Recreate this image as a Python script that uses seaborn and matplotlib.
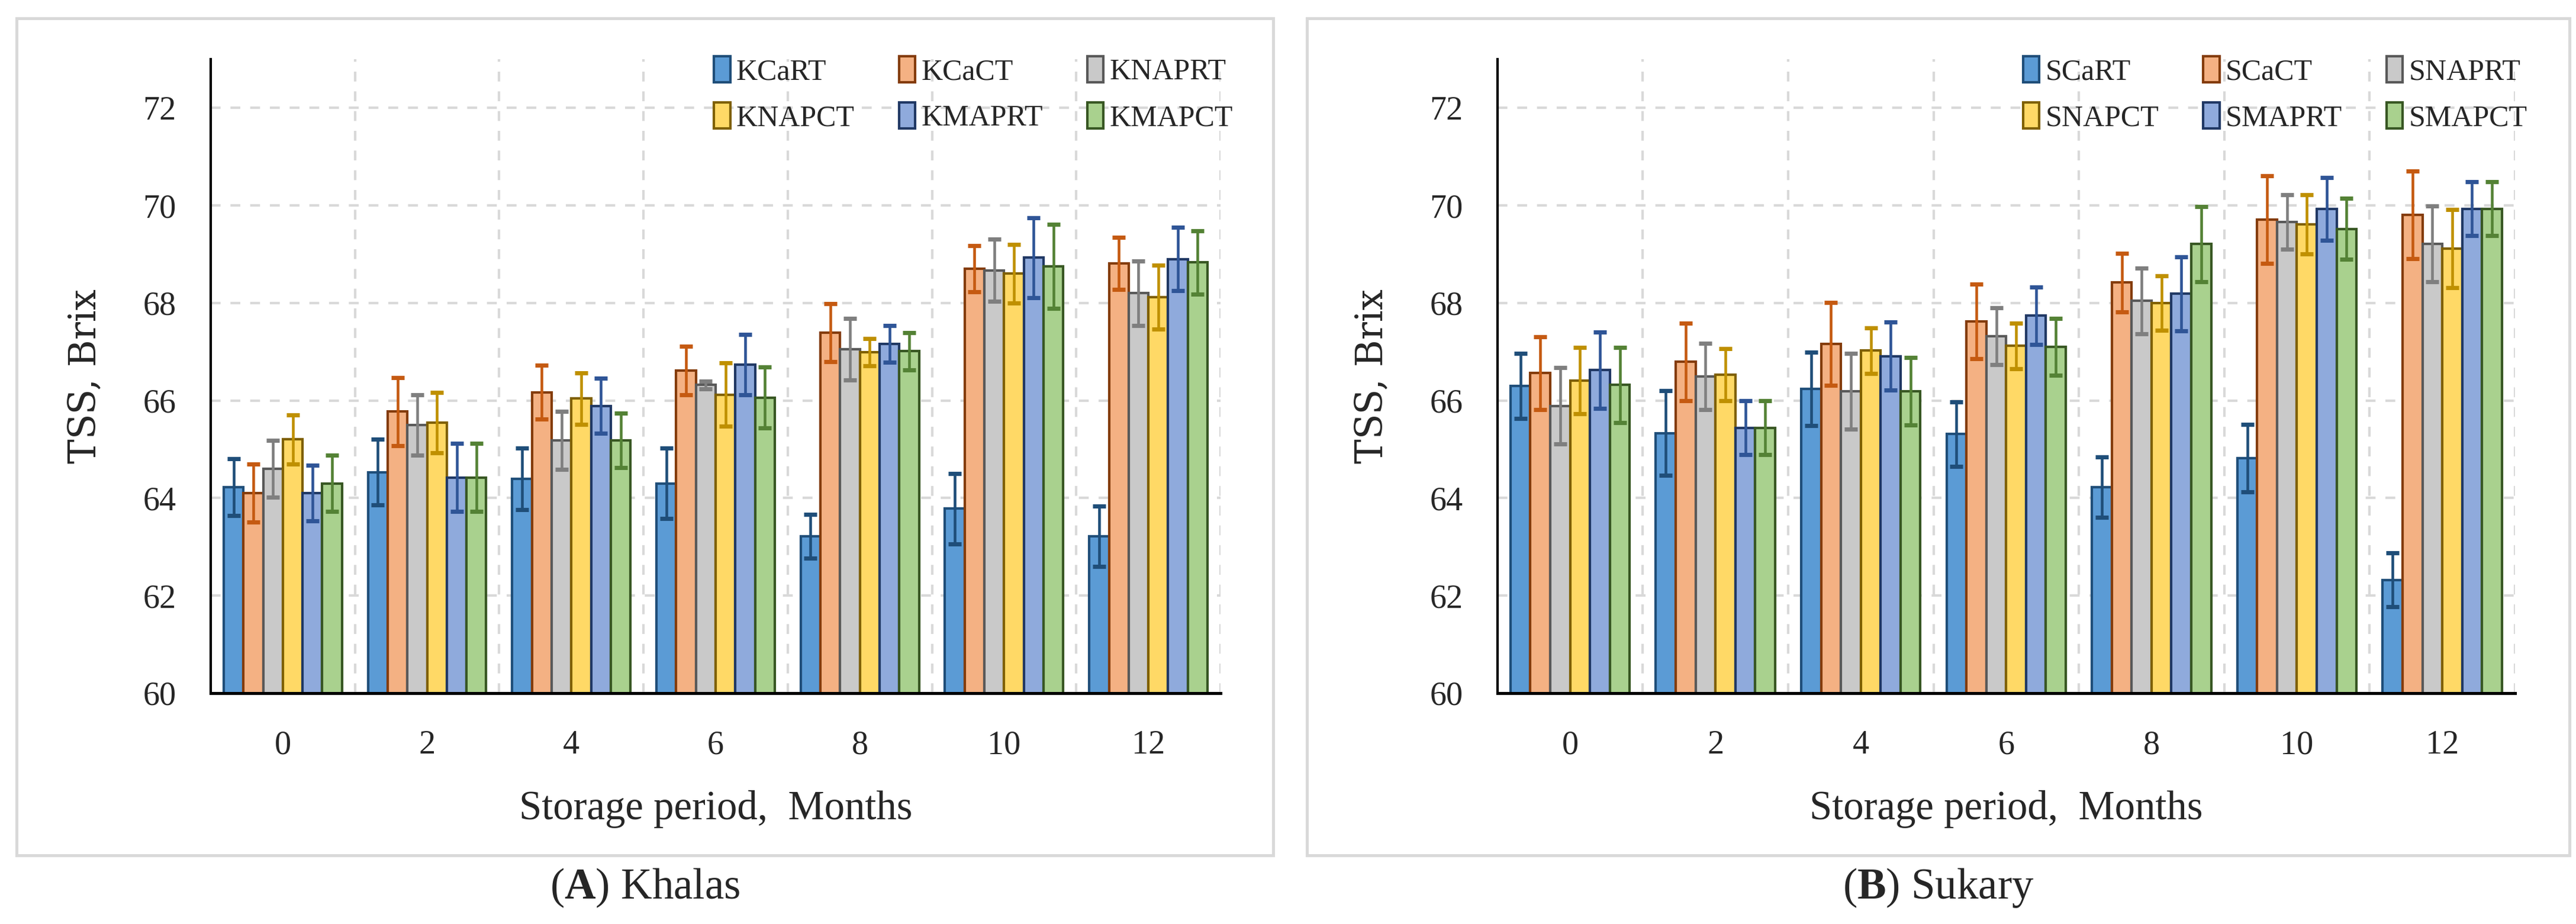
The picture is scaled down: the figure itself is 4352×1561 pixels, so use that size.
import numpy as np
import pandas as pd
import matplotlib
matplotlib.use("Agg")
import matplotlib.pyplot as plt
import matplotlib.patches as mpatches
import seaborn as sns

months = ["0", "2", "4", "6", "8", "10", "12"]

khalas_names = ["KCaRT", "KCaCT", "KNAPRT", "KNAPCT", "KMAPRT", "KMAPCT"]
khalas_means = {
    "KCaRT":  [64.22, 64.53, 64.39, 64.30, 63.21, 63.78, 63.21],
    "KCaCT":  [64.10, 65.77, 66.17, 66.61, 67.39, 68.70, 68.81],
    "KNAPRT": [64.60, 65.50, 65.18, 66.32, 67.05, 68.67, 68.20],
    "KNAPCT": [65.20, 65.54, 66.04, 66.12, 66.99, 68.60, 68.12],
    "KMAPRT": [64.10, 64.42, 65.89, 66.73, 67.16, 68.93, 68.90],
    "KMAPCT": [64.30, 64.42, 65.18, 66.06, 67.01, 68.75, 68.83],
}
khalas_errs = {
    "KCaRT":  [0.58, 0.67, 0.63, 0.72, 0.45, 0.72, 0.62],
    "KCaCT":  [0.60, 0.70, 0.55, 0.50, 0.60, 0.47, 0.53],
    "KNAPRT": [0.58, 0.62, 0.60, 0.08, 0.63, 0.64, 0.66],
    "KNAPCT": [0.50, 0.62, 0.53, 0.65, 0.28, 0.60, 0.66],
    "KMAPRT": [0.57, 0.70, 0.56, 0.62, 0.38, 0.82, 0.65],
    "KMAPCT": [0.58, 0.70, 0.56, 0.63, 0.38, 0.86, 0.65],
}

sukary_names = ["SCaRT", "SCaCT", "SNAPRT", "SNAPCT", "SMAPRT", "SMAPCT"]
sukary_means = {
    "SCaRT":  [66.30, 65.33, 66.24, 65.31, 64.22, 64.82, 62.32],
    "SCaCT":  [66.56, 66.79, 67.16, 67.62, 68.42, 69.71, 69.81],
    "SNAPRT": [65.89, 66.49, 66.19, 67.32, 68.04, 69.66, 69.21],
    "SNAPCT": [66.41, 66.53, 67.02, 67.12, 68.00, 69.61, 69.11],
    "SMAPRT": [66.62, 65.44, 66.91, 67.74, 68.19, 69.93, 69.93],
    "SMAPCT": [66.32, 65.44, 66.19, 67.10, 69.21, 69.52, 69.93],
}
sukary_errs = {
    "SCaRT":  [0.67, 0.87, 0.75, 0.66, 0.62, 0.69, 0.55],
    "SCaCT":  [0.75, 0.80, 0.85, 0.76, 0.60, 0.90, 0.90],
    "SNAPRT": [0.78, 0.68, 0.78, 0.58, 0.67, 0.56, 0.78],
    "SNAPCT": [0.68, 0.53, 0.47, 0.47, 0.56, 0.61, 0.80],
    "SMAPRT": [0.78, 0.55, 0.70, 0.59, 0.76, 0.64, 0.55],
    "SMAPCT": [0.77, 0.55, 0.69, 0.58, 0.77, 0.62, 0.55],
}

fills = ["#5B9BD5", "#F4B183", "#C9C9C9", "#FFD966", "#8FAADC", "#A9D18E"]
edges = ["#1F4E79", "#843C0C", "#595959", "#7F6000", "#203864", "#385723"]
errcols = ["#1F4E79", "#C55A11", "#7F7F7F", "#BF9000", "#2F5597", "#548235"]

sns.set_style("white")
plt.rcParams["font.family"] = ["Liberation Serif", "DejaVu Serif"]
plt.rcParams["mathtext.fontset"] = "custom"
plt.rcParams["mathtext.rm"] = "Liberation Serif"
plt.rcParams["mathtext.bf"] = "Liberation Serif:bold"


def panel(fig, rect, names, means, errs):
    rows = []
    for n in names:
        for m, v in zip(months, means[n]):
            rows.append({"month": m, "tss": v, "treat": n})
    df = pd.DataFrame(rows)

    ax = fig.add_axes(rect)
    sns.barplot(data=df, x="month", y="tss", hue="treat", order=months,
                hue_order=names, palette=fills, saturation=1, width=0.82,
                errorbar=None, legend=False, linewidth=1.0, ax=ax)
    bars = list(ax.containers)
    for i, cont in enumerate(bars):
        xs = []
        for p in cont.patches:
            p.set_edgecolor(edges[i])
            xs.append(p.get_x() + p.get_width() / 2)
        ax.errorbar(xs, means[names[i]], yerr=errs[names[i]], fmt="none",
                    ecolor=errcols[i], elinewidth=1.1, capsize=2.6,
                    capthick=1.7, zorder=5)

    ax.set_ylim(60, 73)
    ax.set_xlim(-0.5, 6.5)
    ax.set_yticks(np.arange(60, 73, 2))
    ax.set_xticks(np.arange(-0.5, 7, 1))
    ax.set_xticklabels([])
    ax.set_xticks(np.arange(7), minor=True)
    ax.set_xticklabels(months, minor=True)
    ax.tick_params(axis="x", which="major", length=5, width=1, direction="out",
                   color="black")
    ax.tick_params(axis="x", which="minor", length=0, pad=15, labelsize=13.5)
    ax.tick_params(axis="y", length=5, width=1, direction="out", pad=9,
                   labelsize=13.5, color="black")
    ax.grid(True, which="major", color="#D9D9D9", linestyle=(0, (4, 4)),
            linewidth=1.0)
    ax.set_axisbelow(True)
    for s in ["top", "right"]:
        ax.spines[s].set_visible(False)
    ax.spines["left"].set_linewidth(1.0)
    ax.spines["bottom"].set_linewidth(1.2)
    ax.spines["left"].set_color("black")
    ax.spines["bottom"].set_color("black")

    ax.set_xlabel("Storage period,  Months", fontsize=16.5, labelpad=12)
    ax.set_ylabel("TSS, Brix", fontsize=15, family="DejaVu Serif", labelpad=16)

    # legend filled row by row, 3 columns
    order = [0, 3, 1, 4, 2, 5]
    ax.legend([bars[k] for k in order], [names[k] for k in order],
              loc="upper right", bbox_to_anchor=(1.012, 1.005), ncol=3,
              frameon=False, fontsize=12, handlelength=0.55,
              handleheight=1.0, handletextpad=0.2, columnspacing=1.5,
              labelspacing=0.55, borderaxespad=0, borderpad=0)
    return ax


fig = plt.figure(figsize=(4352 / 300, 1561 / 300), dpi=300)

# panel frames
for x0, x1 in [(0.0064, 0.4943), (0.5074, 0.9975)]:
    fig.patches.append(mpatches.Rectangle((x0, 0.0743), x1 - x0, 0.980 - 0.0743,
                                          transform=fig.transFigure,
                                          fill=False, edgecolor="#D9D9D9",
                                          linewidth=1.2))

panel(fig, [0.0818, 0.25, 0.3920, 0.686], khalas_names, khalas_means, khalas_errs)
panel(fig, [0.5813, 0.25, 0.3950, 0.686], sukary_names, sukary_means, sukary_errs)

fig.text(0.2503, 0.039, r"($\mathbf{A}$) Khalas", ha="center", va="center",
         fontsize=17.5)
fig.text(0.7525, 0.039, r"($\mathbf{B}$) Sukary", ha="center", va="center",
         fontsize=17.5)

fig.savefig("out.png", dpi=300)
